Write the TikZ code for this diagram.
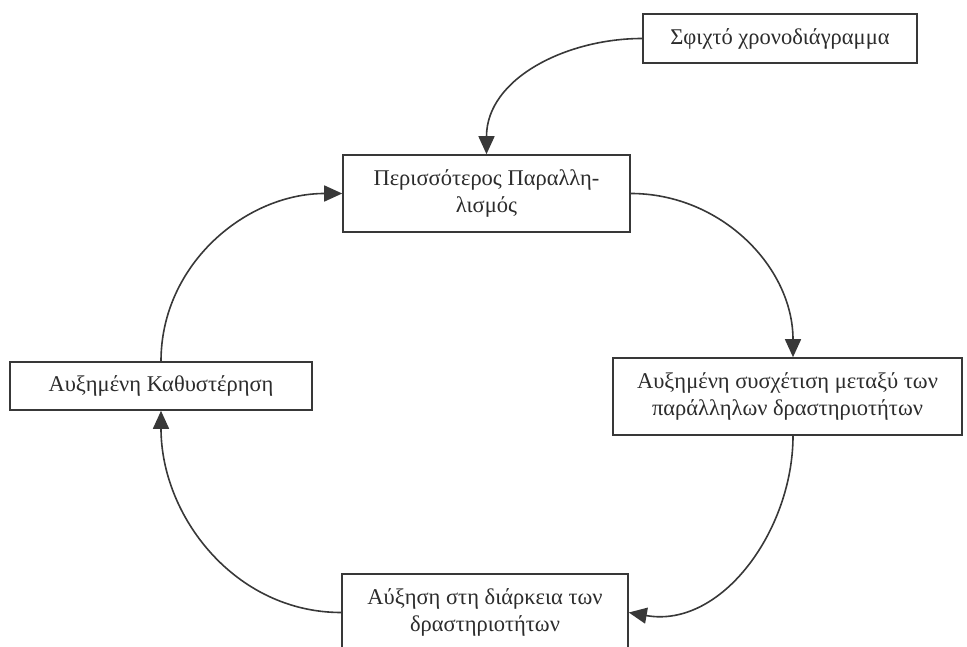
\documentclass[tikz,border=0pt]{standalone}
\usepackage{fontspec}
\setmainfont{Liberation Serif}
\usetikzlibrary{arrows.meta}
\definecolor{ink}{HTML}{383838}
\definecolor{textink}{HTML}{2C2C2C}
\begin{document}
\begin{tikzpicture}[x=1pt,y=-1pt,
  stepbox/.style={draw=ink,line width=1.6pt,fill=white,text=textink,
    inner sep=0pt,align=center,font=\fontsize{22.5}{26.5}\selectfont},
  flow/.style={draw=ink,line width=1.6pt,
    -{Triangle[length=18pt,width=16pt]}}]
\useasboundingbox (0,0) rectangle (967,647);
\clip (0,0) rectangle (967,647);

% boxes of the cycle
\node[stepbox,minimum width=274pt,minimum height=49pt] (tight) at (780,38.5)
  {Σφιχτό χρονοδιάγραμμα};
\node[stepbox,minimum width=287pt,minimum height=77pt] (par) at (486.5,193.5)
  {Περισσότερος Παραλλη-\\λισμός};
\node[stepbox,minimum width=349pt,minimum height=77pt] (corr) at (787.5,396.5)
  {Αυξημένη συσχέτιση μεταξύ των\\παράλληλων δραστηριοτήτων};
\node[stepbox,minimum width=286pt,minimum height=77pt] (dur) at (485,612.5)
  {Αύξηση στη διάρκεια των\\δραστηριοτήτων};
\node[stepbox,minimum width=302pt,minimum height=48pt] (delay) at (161,386)
  {Αυξημένη Καθυστέρηση};

% curved connectors
\draw[flow] (tight.west) to[out=180,in=90] (par.north);
\draw[flow] (par.east) to[out=0,in=90] ([xshift=5.5pt]corr.north);
\draw[flow] ([xshift=5.5pt]corr.south) to[out=-90,in=-10] (dur.east);
\draw[flow] (dur.west) to[out=180,in=-90] (delay.south);
\draw[flow] (delay.north) to[out=90,in=180] (par.west);
\end{tikzpicture}
\end{document}
